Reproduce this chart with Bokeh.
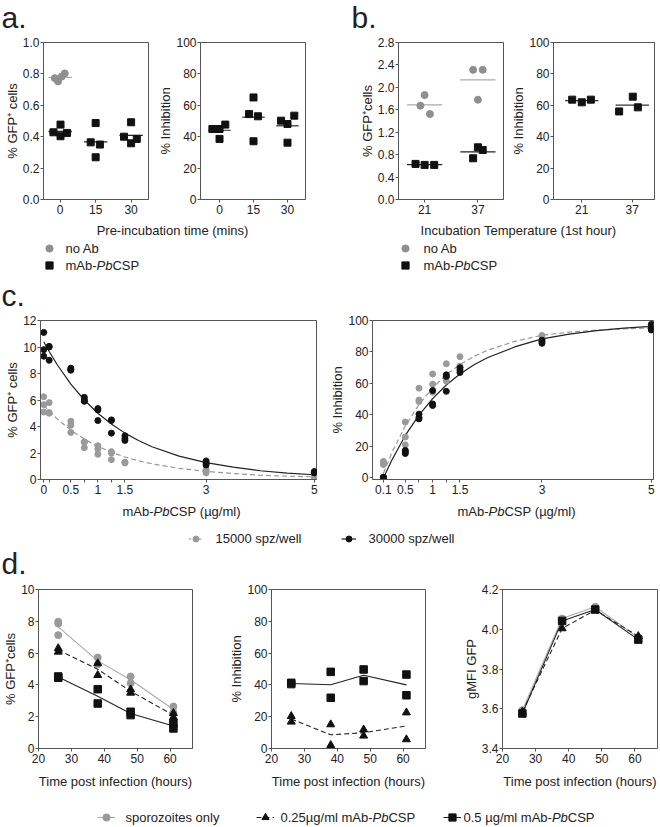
import numpy as np
from bokeh.plotting import figure
from bokeh.layouts import column, row
from bokeh.models import Range1d, FixedTicker, NumeralTickFormatter, Legend, LegendItem
from bokeh.core.properties import value
from bokeh.embed import file_html
from bokeh.resources import INLINE

# ---------------- data ----------------
# panel a: pre-incubation time
a_time_labels = ["0", "15", "30"]
a_noab_gfp = [[0.773, 0.752, 0.782, 0.803]]            # measured at 0 min only
a_noab_dx = [[-0.15, -0.06, 0.04, 0.13]]
a_mab_gfp = [[0.428, 0.477, 0.403, 0.424], [0.364, 0.487, 0.350, 0.269], [0.400, 0.492, 0.358, 0.386]]
a_mab_dx = [[-0.19, 0.01, 0.01, 0.19], [-0.14, 0.0, 0.12, 0.0], [-0.2, 0.0, 0.0, 0.16]]
a_inh = [[44.9, 44.9, 38.6, 47.7], [54.4, 65.0, 53.0, 37.1], [50.2, 48.1, 53.4, 36.2]]
a_inh_dx = [[-0.21, 0.0, 0.0, 0.17], [-0.13, 0.0, 0.13, 0.0], [-0.19, 0.0, 0.2, 0.0]]

# panel b: incubation temperature
b_temp_labels = ["21", "37"]
b_noab_gfp = [[1.673, 1.862, 1.524], [2.313, 2.313, 1.779]]
b_noab_dx = [[-0.08, 0.0, 0.1], [-0.09, 0.09, 0.0]]
b_mab_gfp = [[0.635, 0.617, 0.617], [0.735, 0.931, 0.884]]
b_mab_dx = [[-0.17, 0.0, 0.18], [-0.09, 0.0, 0.09]]
b_inh = [[63.6, 61.9, 63.6], [56.1, 65.5, 58.7]]
b_inh_dx = [[-0.19, 0.0, 0.18], [-0.26, 0.01, 0.11]]

# panel c: dose response
c_conc = [0, 0.1, 0.5, 0.75, 1, 1.25, 1.5, 3, 5]
c_conc_labels = ["0", "", "0.5", "", "1", "", "1.5", "3", "5"]
c_gfp_15k = [[6.25, 5.65, 5.1], [5.8, 5.05, 5.0], [4.4, 4.1, 3.55], [2.85, 2.8, 2.4], [2.55, 2.3, 1.9],
             [2.1, 2.0, 1.5], [1.3, 1.3, 1.25], [0.75, 0.6, 0.5], [0.3, 0.2, 0.15]]
c_gfp_30k = [[11.1, 9.8, 9.3], [10.05, 10.0, 9.0], [8.4, 8.3, 8.25], [6.2, 6.0, 5.9], [5.35, 5.25, 4.45],
             [4.5, 4.45, 3.5], [3.3, 3.1, 2.95], [1.4, 1.25, 1.1], [0.6, 0.55, 0.5]]
c_inh_conc = [0.1, 0.5, 0.75, 1, 1.25, 1.5, 3, 5]
c_inh_labels = ["0.1", "0.5", "", "1", "", "1.5", "3", "5"]
c_inh_15k = [[10.5, 9.0, 8.5], [35.5, 26, 21], [57, 49.5, 48.5], [66, 59.5, 54.5], [72.5, 64, 61.5],
             [77, 71, 70], [90.5, 89.5, 88], [97, 96, 95]]
c_inh_30k = [[0.5, 0.2, 0.0], [17.5, 16.5, 15.5], [40.5, 38.5, 37.5], [55.5, 47, 46], [65.5, 64.5, 55],
             [70, 68.5, 67], [87.5, 86.5, 85.5], [97.5, 95, 94]]
# fitted curves
c_fit_x = [0, 0.1, 0.25, 0.5, 0.75, 1, 1.25, 1.5, 1.75, 2, 2.5, 3, 3.5, 4, 4.5, 5]
c_fit_gfp_15k = [5.6, 5.16, 4.56, 3.73, 3.05, 2.50, 2.06, 1.70, 1.41, 1.18, 0.84, 0.62, 0.45, 0.32, 0.25, 0.2]
c_fit_gfp_30k = [10.4, 9.66, 8.66, 7.2, 6.0, 5.0, 4.19, 3.5, 2.94, 2.47, 1.76, 1.27, 0.93, 0.66, 0.48, 0.36]
c_fit_inh_x = [0.1, 0.25, 0.5, 0.75, 1, 1.25, 1.5, 1.75, 2, 2.5, 3, 3.5, 4, 4.5, 5]
c_fit_inh_15k = [3.0, 15.7, 33.0, 46.6, 57.2, 65.5, 72.0, 77.1, 81.1, 86.7, 90.6, 92.6, 93.9, 94.7, 95.2]
c_fit_inh_30k = [0.0, 11.1, 27.0, 39.9, 50.4, 59.0, 66.0, 71.7, 76.3, 83.2, 88.3, 91.3, 93.6, 95.2, 96.3]

# panel d: time course
d_hours = [26, 38, 48, 61]
d_hour_ticks = [20, 30, 40, 50, 60]
d_gfp_spz = [[7.97, 7.86, 7.13], [5.72, 5.30], [4.53, 4.11], [2.64, 2.26]]
d_gfp_025 = [[6.30, 6.08], [5.35, 4.61], [3.71, 3.50], [2.22, 1.97]]
d_gfp_05 = [[4.53, 4.45], [3.73, 2.83], [2.31, 2.10], [1.57, 1.26]]
d_inh_025 = [[20.3, 16.8], [15.1, 2.1], [11.9, 8.0], [22.6, 5.7]]
d_inh_05 = [[41.3, 40.5], [48.2, 31.9], [49.7, 42.4], [46.5, 33.5]]
d_mfi_spz = [3.593, 4.054, 4.113, 3.958]
d_mfi_025 = [3.584, 4.004, 4.096, 3.965]
d_mfi_05 = [3.576, 4.042, 4.099, 3.948]

# ---------------- style ----------------
FONT = "Liberation Sans"
TC = "#222222"
AX = "#555555"
GRAY = "#8f8f8f"
LGRAY = "#9a9a9a"
BLACK = "#111111"
TICK = 12
LAB = 13
LET = 30
TOTAL_W = 660
W = {'m': 833, 'A': 667, 'b': 556, '-': 333, 'P': 667, 'C': 722, 'S': 667, ' ': 278, '(': 333,
     'µ': 576, 'g': 556, '/': 278, 'l': 222, ')': 333, '0': 556, '.': 278, '2': 556, '5': 556}
NAN = np.array([np.nan])


def plot_fig(fig_lr, fig_tb, frame_lr, frame_tb, xr, yr):
    fl, fr = fig_lr
    ft, fb = fig_tb
    l, r = frame_lr
    t, b = frame_tb
    p = figure(width=fr - fl, height=fb - ft, x_range=Range1d(*xr), y_range=Range1d(*yr),
               toolbar_location=None, output_backend="svg",
               min_border_left=l - fl, min_border_right=fr - r,
               min_border_top=t - ft, min_border_bottom=fb - b)
    p.grid.visible = False
    p.outline_line_color = AX
    p.outline_line_width = 1
    p.background_fill_color = "white"
    p.border_fill_color = "white"
    p.axis.axis_line_color = AX
    p.axis.major_tick_line_color = AX
    p.axis.major_tick_out = 3
    p.axis.major_tick_in = 0
    p.axis.minor_tick_line_color = None
    p.axis.major_label_text_font = FONT
    p.axis.major_label_text_font_size = f"{TICK}px"
    p.axis.major_label_text_color = TC
    p.yaxis.major_label_standoff = 1
    p.xaxis.major_label_standoff = 2
    p.axis.axis_label_text_font = FONT
    p.axis.axis_label_text_font_size = f"{LAB}px"
    p.axis.axis_label_text_font_style = "normal"
    p.axis.axis_label_text_color = TC
    p.axis.axis_label_standoff = 0
    return p


def set_ticks(axis, ticks, labels=None, fmt=None):
    axis.ticker = FixedTicker(ticks=ticks)
    if labels is not None:
        axis.major_label_overrides = {t: lab for t, lab in zip(ticks, labels)}
    if fmt is not None:
        axis.formatter = NumeralTickFormatter(format=fmt)


def dot_groups(p, groups, dxs, marker, color, size, mean_color, half=0.33):
    xs, ys = [], []
    for gi, (vals, ds) in enumerate(zip(groups, dxs)):
        for v, d in zip(vals, ds):
            xs.append(1 + gi + d)
            ys.append(v)
    means = [float(np.mean(g)) for g in groups]
    cx = [1 + i for i in range(len(groups))]
    p.segment(x0=[c - half for c in cx], y0=means, x1=[c + half for c in cx], y1=means,
              line_color=mean_color, line_width=1.3)
    p.scatter(xs, ys, marker=marker, size=size, fill_color=color, line_color=color)


def conc_points(p, conc, groups, color, size=6):
    xs = [c for c, g in zip(conc, groups) for _ in g]
    ys = [v for g in groups for v in g]
    p.scatter(xs, ys, marker="circle", size=size, fill_color=color, line_color=color)


def series(p, hours, groups, marker, color, size, line_color, dash):
    xs = [h for h, g in zip(hours, groups) for _ in g]
    ys = [v for g in groups for v in g]
    means = [float(np.mean(g)) for g in groups]
    p.line(hours, means, line_color=line_color, line_dash=dash, line_width=1.1)
    p.scatter(xs, ys, marker=marker, size=size, fill_color=color, line_color=color)


# ---------------- bands for free text and keys ----------------
def band(top, bot):
    h = bot - top
    f = figure(width=TOTAL_W, height=h, x_range=Range1d(0, TOTAL_W), y_range=Range1d(0, h),
               x_axis_type=None, y_axis_type=None, toolbar_location=None, output_backend="svg",
               min_border=0)
    f.outline_line_color = None
    f.background_fill_color = "white"
    f.border_fill_color = "white"
    return f, (lambda y: bot - y)


def put_text(f, x, y, s, size, align="left", style="normal", baseline="middle"):
    f.text(x=[x], y=[y], text=[s], text_font=value(FONT), text_font_size=f"{size}px",
           text_font_style=style, text_align=align, text_baseline=baseline, text_color=TC)


def twidth(s, size):
    return sum(W.get(c, 556) for c in s) * size / 1000


def rich(f, x, y, pieces, size, align="left"):
    widths = [twidth(s, size) for s, _ in pieces]
    x0 = x - sum(widths) / 2 if align == "center" else x
    for (s, st), w in zip(pieces, widths):
        lead = len(s) - len(s.lstrip(" "))
        put_text(f, x0 + twidth(" " * lead, size), y, s.strip(" "), size, style=st)
        x0 += w


def letter(f, ty, x, baseline_y, s):
    # text placed by its middle; middle lies about 0.35 em above the baseline
    put_text(f, x, ty(baseline_y - 0.35 * LET), s, LET)


def key(f, cx, cy, renderers, gw, gh):
    lg = Legend(items=[LegendItem(label=" ", renderers=renderers)],
                location=(cx - gw / 2, cy - gh / 2), orientation="vertical",
                glyph_width=gw, glyph_height=gh, label_width=0,
                label_height=gh, label_standoff=0, padding=0, margin=0, spacing=0,
                border_line_color=None, background_fill_alpha=0, label_text_font_size="1px")
    f.add_layout(lg)


MAB = [("mAb-", "normal"), ("Pb", "italic"), ("CSP", "normal")]

# ---------------- row A: panels a and b ----------------
fa1 = plot_fig((0, 155), (35, 222), (43, 148), (42, 199), (0.53, 3.49), (0, 1))
set_ticks(fa1.yaxis, [0, 0.2, 0.4, 0.6, 0.8, 1.0], fmt="0.0")
set_ticks(fa1.xaxis, [1, 2, 3], a_time_labels)
fa1.yaxis.axis_label = "% GFP⁺ cells"
dot_groups(fa1, a_noab_gfp, a_noab_dx, "circle", GRAY, 7, "#aaaaaa")
dot_groups(fa1, a_mab_gfp, a_mab_dx, "square", BLACK, 7, "#222222")

fa2 = plot_fig((155, 330), (35, 222), (198, 305), (42, 199), (0.44, 3.53), (0, 100))
set_ticks(fa2.yaxis, [0, 20, 40, 60, 80, 100])
set_ticks(fa2.xaxis, [1, 2, 3], a_time_labels)
fa2.yaxis.axis_label = "% Inhibition"
dot_groups(fa2, a_inh, a_inh_dx, "square", BLACK, 7, "#555555")

fb1 = plot_fig((330, 508), (35, 222), (398, 503), (42, 199), (0.51, 2.48), (0, 2.8))
set_ticks(fb1.yaxis, [0, 0.4, 0.8, 1.2, 1.6, 2.0, 2.4, 2.8], fmt="0.0")
set_ticks(fb1.xaxis, [1, 2], b_temp_labels)
fb1.yaxis.axis_label = "% GFP⁺cells"
dot_groups(fb1, b_noab_gfp, b_noab_dx, "circle", GRAY, 7, "#aaaaaa")
dot_groups(fb1, b_mab_gfp, b_mab_dx, "square", BLACK, 7, "#222222")

fb2 = plot_fig((508, 660), (35, 222), (550, 654), (42, 199), (0.44, 2.44), (0, 100))
set_ticks(fb2.yaxis, [0, 20, 40, 60, 80, 100])
set_ticks(fb2.xaxis, [1, 2], b_temp_labels)
fb2.yaxis.axis_label = "% Inhibition"
dot_groups(fb2, b_inh, b_inh_dx, "square", BLACK, 7, "#333333")

# ---------------- row C ----------------
fc1 = plot_fig((0, 327), (312, 502), (40, 316), (320, 479), (-0.06, 5.04), (0, 12))
set_ticks(fc1.yaxis, [0, 2, 4, 6, 8, 10, 12])
set_ticks(fc1.xaxis, c_conc, c_conc_labels)
fc1.yaxis.axis_label = "% GFP⁺ cells"
fc1.line(c_fit_x, c_fit_gfp_15k, line_color=LGRAY, line_dash="5 3", line_width=1.2)
fc1.line(c_fit_x, c_fit_gfp_30k, line_color="#222222", line_width=1.2)
conc_points(fc1, c_conc, c_gfp_15k, LGRAY)
conc_points(fc1, c_conc, c_gfp_30k, BLACK)

fc2 = plot_fig((327, 660), (312, 502), (369, 653), (320, 479), (-0.1, 5.04), (-1, 100))
set_ticks(fc2.yaxis, [0, 20, 40, 60, 80, 100])
set_ticks(fc2.xaxis, c_inh_conc, c_inh_labels)
fc2.yaxis.axis_label = "% Inhibition"
fc2.line(c_fit_inh_x, c_fit_inh_15k, line_color=LGRAY, line_dash="5 3", line_width=1.2)
fc2.line(c_fit_inh_x, c_fit_inh_30k, line_color="#222222", line_width=1.2)
conc_points(fc2, c_inh_conc, c_inh_15k, LGRAY)
conc_points(fc2, c_inh_conc, c_inh_30k, BLACK)


# ---------------- row D ----------------
def d_fig(lr, frame_lr, yr, ylabel):
    p = plot_fig(lr, (581, 795), frame_lr, (589, 748), (20, 66.8), yr)
    set_ticks(p.xaxis, d_hour_ticks)
    p.xaxis.axis_label = "Time post infection (hours)"
    p.xaxis.axis_label_standoff = 8
    p.yaxis.axis_label = ylabel
    return p


fd1 = d_fig((0, 226), (33, 192), (0, 10), "% GFP⁺cells")
set_ticks(fd1.yaxis, [0, 2, 4, 6, 8, 10])
series(fd1, d_hours, d_gfp_spz, "circle", LGRAY, 7, "#aaaaaa", "solid")
series(fd1, d_hours, d_gfp_025, "triangle", BLACK, 8, "#222222", "5 3")
series(fd1, d_hours, d_gfp_05, "square", BLACK, 7.5, "#222222", "solid")

fd2 = d_fig((226, 460), (267, 425), (0, 100), "% Inhibition")
set_ticks(fd2.yaxis, [0, 20, 40, 60, 80, 100])
series(fd2, d_hours, d_inh_025, "triangle", BLACK, 8, "#222222", "5 3")
series(fd2, d_hours, d_inh_05, "square", BLACK, 7.5, "#222222", "solid")

fd3 = d_fig((460, 660), (498, 657), (3.4, 4.2), "gMFI GFP")
set_ticks(fd3.yaxis, [3.4, 3.6, 3.8, 4.0, 4.2], fmt="0.0")
series(fd3, d_hours, [[v] for v in d_mfi_spz], "circle", LGRAY, 7, "#aaaaaa", "solid")
series(fd3, d_hours, [[v] for v in d_mfi_025], "triangle", BLACK, 8, "#222222", "5 3")
series(fd3, d_hours, [[v] for v in d_mfi_05], "square", BLACK, 7.5, "#222222", "solid")

# ---------------- bands ----------------
B1, ty1 = band(0, 35)
letter(B1, ty1, 1, 27, "a.")
letter(B1, ty1, 351, 27, "b.")

B2, ty2 = band(222, 312)
put_text(B2, 172, ty2(230), "Pre-incubation time (mins)", LAB, align="center")
put_text(B2, 518, ty2(230), "Incubation Temperature (1st hour)", LAB, align="center")
kc = B2.scatter(x=NAN, y=NAN, marker="circle", size=7, fill_color=GRAY, line_color=GRAY)
ks = B2.scatter(x=NAN, y=NAN, marker="square", size=7, fill_color=BLACK, line_color=BLACK)
for mx, lx in ((49, 65), (405, 423)):
    key(B2, mx, ty2(248), [kc], 18, 18)
    key(B2, mx, ty2(265), [ks], 18, 18)
    put_text(B2, lx, ty2(248), "no Ab", LAB)
    rich(B2, lx, ty2(265), MAB, LAB)
letter(B2, ty2, 1, 305, "c.")

B3, ty3 = band(502, 581)
rich(B3, 181, ty3(511), MAB + [(" (µg/ml)", "normal")], LAB, align="center")
rich(B3, 516, ty3(511), MAB + [(" (µg/ml)", "normal")], LAB, align="center")
l15 = B3.line(x=NAN, y=NAN, line_color=LGRAY, line_dash="3 2", line_width=1.2)
c15 = B3.scatter(x=NAN, y=NAN, marker="circle", size=6, fill_color=LGRAY, line_color=LGRAY)
l30 = B3.line(x=NAN, y=NAN, line_color="#222222", line_width=1.2)
c30 = B3.scatter(x=NAN, y=NAN, marker="circle", size=6, fill_color=BLACK, line_color=BLACK)
key(B3, 195, ty3(538), [l15, c15], 15, 15)
put_text(B3, 215, ty3(538), "15000 spz/well", LAB)
key(B3, 348, ty3(538), [l30, c30], 15, 15)
put_text(B3, 368, ty3(538), "30000 spz/well", LAB)
letter(B3, ty3, 1, 573, "d.")

B4, ty4 = band(795, 826)
lg_ = B4.line(x=NAN, y=NAN, line_color="#aaaaaa", line_width=1.1)
cg_ = B4.scatter(x=NAN, y=NAN, marker="circle", size=7, fill_color=LGRAY, line_color=LGRAY)
lt_ = B4.line(x=NAN, y=NAN, line_color="#222222", line_dash="5 3", line_width=1.1)
ct_ = B4.scatter(x=NAN, y=NAN, marker="triangle", size=8, fill_color=BLACK, line_color=BLACK)
lsq = B4.line(x=NAN, y=NAN, line_color="#222222", line_width=1.1)
csq = B4.scatter(x=NAN, y=NAN, marker="square", size=7.5, fill_color=BLACK, line_color=BLACK)
key(B4, 106, ty4(817), [lg_, cg_], 18, 18)
put_text(B4, 125, ty4(817), "sporozoites only", LAB)
key(B4, 265, ty4(817), [lt_, ct_], 18, 18)
rich(B4, 280, ty4(817), [("0.25µg/ml mAb-", "normal"), ("Pb", "italic"), ("CSP", "normal")], LAB)
key(B4, 452, ty4(817), [lsq, csq], 18, 18)
rich(B4, 463, ty4(817), [("0.5 µg/ml mAb-", "normal"), ("Pb", "italic"), ("CSP", "normal")], LAB)

layout = column(
    B1,
    row(fa1, fa2, fb1, fb2),
    B2,
    row(fc1, fc2),
    B3,
    row(fd1, fd2, fd3),
    B4,
)

open("out.html", "w").write(file_html(layout, INLINE))
